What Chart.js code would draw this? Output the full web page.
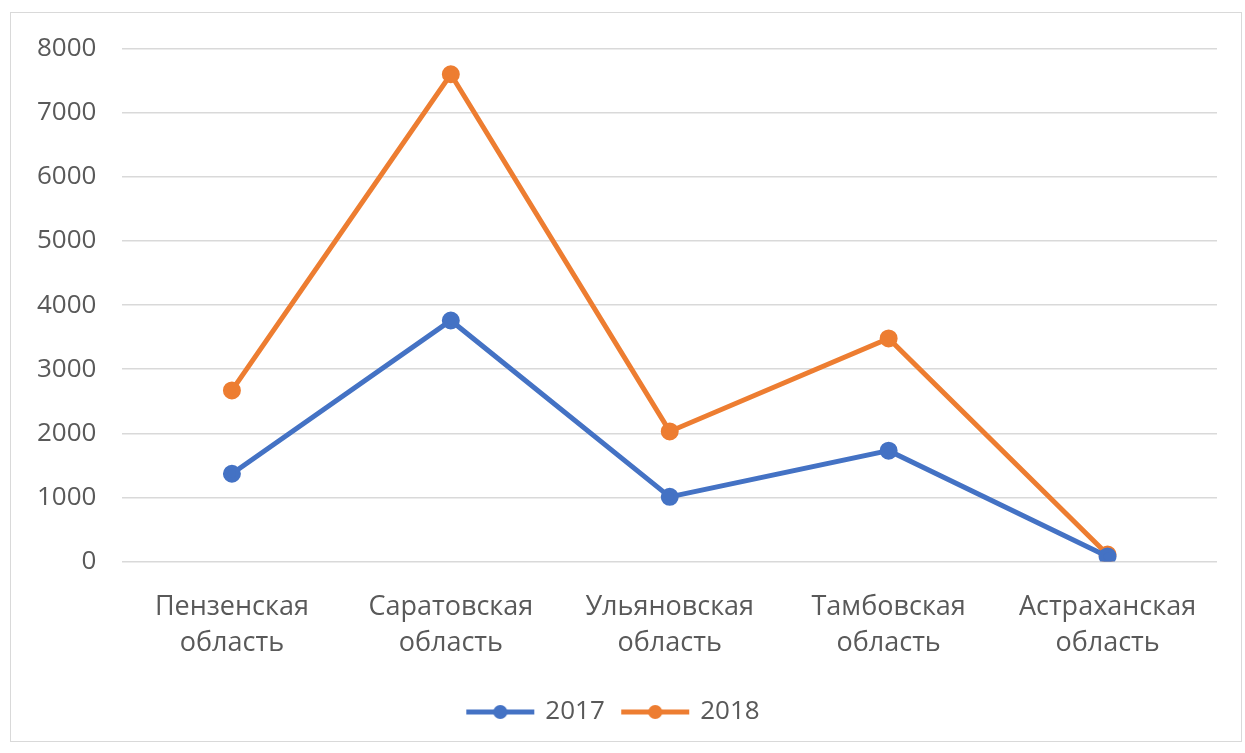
<!DOCTYPE html>
<html>
<head>
<meta charset="utf-8">
<script src="https://cdn.jsdelivr.net/npm/chart.js@4/dist/chart.umd.min.js"></script>
<style>
  body { margin: 0; background: #fff; }
  #box {
    position: absolute; left: 10px; top: 12px;
    width: 1232px; height: 730px;
    border: 1px solid #d9d9d9; box-sizing: border-box;
  }
  #lienzo {
    position: absolute; left: 0; top: -6px;
    width: 1230px; height: 728px;
  }
</style>
</head>
<body>
<div id="box"><div id="lienzo"><canvas id="myChart"></canvas></div></div>
<script>
const regiones = [
  ['Пензенская', 'область'],
  ['Саратовская', 'область'],
  ['Ульяновская', 'область'],
  ['Тамбовская', 'область'],
  ['Астраханская', 'область']
]
const valores2017 = [1370, 3760, 1010, 1730, 80]
const valores2018 = [2670, 7600, 2030, 3480, 110]
const anios = ['2017', '2018']
const colores = ['#4472C4', '#ED7D31']

// icono de leyenda: linea con punto
function iconoLeyenda(color) {
  const c = document.createElement('canvas')
  c.width = 70
  c.height = 16
  const g = c.getContext('2d')
  g.strokeStyle = color
  g.lineWidth = 5
  g.beginPath()
  g.moveTo(1, 8)
  g.lineTo(69, 8)
  g.stroke()
  g.fillStyle = color
  g.beginPath()
  g.arc(35, 8, 7, 0, Math.PI * 2)
  g.fill()
  return c
}

const ctx = document.getElementById('myChart').getContext('2d')
Chart.defaults.font.family = '"Open Sans", "DejaVu Sans", sans-serif'
Chart.defaults.color = '#595959'

const render = new Chart(ctx, {
  type: 'line',
  data: {
    labels: regiones,
    datasets: [valores2017, valores2018].map((d, i) => ({
      label: anios[i],
      data: d,
      borderColor: colores[i],
      backgroundColor: colores[i],
      borderWidth: 5,
      pointRadius: 6.5,
      pointHoverRadius: 6.5,
      tension: 0
    }))
  },
  options: {
    responsive: true,
    maintainAspectRatio: false,
    animation: false,
    layout: { padding: { top: 17, right: 24, left: 0, bottom: 0 } },
    plugins: {
      tooltip: { enabled: false },
      legend: {
        position: 'bottom',
        labels: {
          font: { size: 26 },
          usePointStyle: true,
          pointStyleWidth: 64,
          padding: 18.5,
          generateLabels: (chart) => chart.data.datasets.map((ds, i) => ({
            text: ds.label,
            fillStyle: ds.borderColor,
            strokeStyle: ds.borderColor,
            fontColor: '#595959',
            pointStyle: iconoLeyenda(ds.borderColor),
            datasetIndex: i,
            hidden: false
          }))
        }
      }
    },
    scales: {
      y: {
        min: 0,
        max: 8000,
        ticks: {
          stepSize: 1000,
          font: { size: 26 },
          padding: 26,
          callback: (v) => String(v)
        },
        grid: { color: '#d9d9d9', lineWidth: 1.5, drawTicks: false },
        border: { display: false }
      },
      x: {
        offset: true,
        ticks: { font: { size: 27, lineHeight: 1.35 }, padding: 19, maxRotation: 0 },
        grid: { display: false, offset: true },
        border: { display: false }
      }
    }
  }
})
</script>
</body>
</html>
